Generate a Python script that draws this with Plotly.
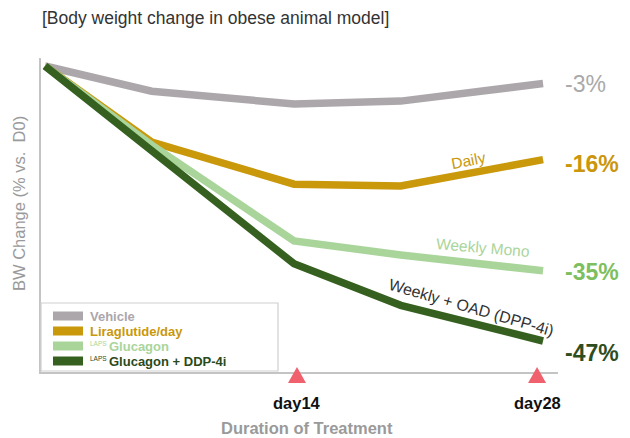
import plotly.graph_objects as go

# Body weight change (% vs. day 0) over the treatment period
days = [0, 6, 14, 20, 28]
vehicle = [0, -4.3, -6.5, -6.0, -3]
liraglutide = [0, -13.0, -20.2, -20.5, -16]
laps_glucagon = [0, -13.5, -29.9, -32.3, -35]
laps_glucagon_dpp4i = [0, -14.4, -33.8, -40.9, -47]

series_values = [vehicle, liraglutide, laps_glucagon, laps_glucagon_dpp4i]
legend_prefix = ["", "", "LAPS", "LAPS"]
legend_names = ["Vehicle", "Liraglutide/day", "Glucagon", "Glucagon + DDP-4i"]
end_labels = ["-3%", "-16%", "-35%", "-47%"]
tick_days = [14, 28]
tick_text = ["day14", "day28"]

line_colors = ["#aca7ab", "#c9980b", "#a9d59b", "#36601f"]
legend_text_colors = ["#aca6ad", "#c9980b", "#a9d59b", "#2a4a1b"]
end_label_colors = ["#a9a9a9", "#c9960c", "#7dbf5f", "#2e4d1e"]
end_label_bold = [False, True, True, True]
end_label_yshift = [0, -4, -1, -12]
tick_xshift = [3, -6]

FONT = "Liberation Sans"
W_FIG, H_FIG = 630, 438
M_L, M_R, M_T, M_B = 41, 72, 58, 66
PLOT_W = W_FIG - M_L - M_R
PLOT_H = H_FIG - M_T - M_B
AXIS_Y_PX = M_T + PLOT_H


def paper_x(px):
    return (px - M_L) / PLOT_W


def paper_y(py):
    return (AXIS_Y_PX - py) / PLOT_H


x_range = [-0.225, 28.84]
y_range = [-52.3, 1.37]

fig = go.Figure()

for vals, color in zip(series_values, line_colors):
    fig.add_trace(go.Scatter(
        x=days, y=vals, mode="lines",
        line=dict(color=color, width=7.5),
        showlegend=False, hoverinfo="skip",
    ))

annotations = []
shapes = []

# end-of-study values at the right of each line
for vals, txt, col, bold, ys in zip(series_values, end_labels, end_label_colors,
                                     end_label_bold, end_label_yshift):
    annotations.append(dict(
        x=days[-1], y=vals[-1], xref="x", yref="y",
        text=f"<b>{txt}</b>" if bold else txt,
        showarrow=False, xanchor="left", yanchor="middle",
        xshift=20, yshift=ys,
        font=dict(family=FONT, size=23, color=col),
    ))

# labels written along the curves
curve_notes = [
    ("Daily", 23.8, -16.1, -11, "#c9980b", 15.5),
    ("Weekly Mono", 24.6, -31.1, 5, "#a9d59b", 15.5),
    ("Weekly + OAD (DPP-4i)", 23.95, -41.2, 16, "#333333", 16),
]
for txt, x, y, ang, col, fs in curve_notes:
    annotations.append(dict(
        x=x, y=y, xref="x", yref="y", text=txt, showarrow=False,
        textangle=ang, xanchor="center", yanchor="middle",
        font=dict(family=FONT, size=fs, color=col),
    ))

# red triangles and day labels on the time axis
for d, txt, xs in zip(tick_days, tick_text, tick_xshift):
    shapes.append(dict(
        type="path", xref="x", yref="paper",
        xsizemode="pixel", ysizemode="pixel", xanchor=d, yanchor=0,
        path=f"M {xs - 9} -11 L {xs + 9} -11 L {xs} 5 Z",
        fillcolor="#f0616d", line=dict(width=0), layer="above",
    ))
    annotations.append(dict(
        x=d, y=0, xref="x", yref="paper", text=f"<b>{txt}</b>",
        showarrow=False, xanchor="center", yanchor="middle",
        xshift=xs, yshift=-31,
        font=dict(family=FONT, size=16.5, color="#111111"),
    ))

# axis titles
annotations.append(dict(
    x=paper_x(307), y=paper_y(428), xref="paper", yref="paper",
    text="<b>Duration of Treatment</b>", showarrow=False,
    xanchor="center", yanchor="middle",
    font=dict(family=FONT, size=16.5, color="#9a9a9a"),
))
annotations.append(dict(
    x=paper_x(19), y=paper_y(204), xref="paper", yref="paper",
    text="BW Change (% vs.  D0)", showarrow=False, textangle=-90,
    xanchor="center", yanchor="middle",
    font=dict(family=FONT, size=16.5, color="#9a9a9a"),
))

# chart title
annotations.append(dict(
    x=paper_x(40), y=paper_y(18), xref="paper", yref="paper",
    text="[Body weight change in obese animal model]", showarrow=False,
    xanchor="left", yanchor="middle",
    font=dict(family=FONT, size=17.5, color="#333333"),
))

# legend box with colour swatches
shapes.append(dict(
    type="rect", xref="paper", yref="paper",
    x0=paper_x(41), x1=paper_x(278), y0=paper_y(371), y1=paper_y(303),
    line=dict(color="#cfcfcf", width=1.2), fillcolor="rgba(0,0,0,0)",
))
row_y = [316, 331, 346, 361]
for ry, pre, name, lc, tc in zip(row_y, legend_prefix, legend_names,
                                 line_colors, legend_text_colors):
    shapes.append(dict(
        type="rect", xref="paper", yref="paper",
        x0=paper_x(53), x1=paper_x(83), y0=paper_y(ry + 4.5), y1=paper_y(ry - 4.5),
        line=dict(width=0), fillcolor=lc,
    ))
    text_x = 88
    if pre:
        annotations.append(dict(
            x=paper_x(text_x), y=paper_y(ry - 3), xref="paper", yref="paper",
            text=pre, showarrow=False, xanchor="left", yanchor="middle",
            font=dict(family=FONT, size=6.5, color=tc),
        ))
        text_x = 107
    annotations.append(dict(
        x=paper_x(text_x), y=paper_y(ry), xref="paper", yref="paper",
        text=f"<b>{name}</b>", showarrow=False, xanchor="left", yanchor="middle",
        font=dict(family=FONT, size=13, color=tc),
    ))

fig.update_layout(
    width=W_FIG, height=H_FIG,
    margin=dict(l=M_L, r=M_R, t=M_T, b=M_B),
    paper_bgcolor="white", plot_bgcolor="white",
    showlegend=False,
    xaxis=dict(range=x_range, showgrid=False, zeroline=False, showticklabels=False,
               ticks="", showline=True, linecolor="#c4c4c4", linewidth=1.5),
    yaxis=dict(range=y_range, showgrid=False, zeroline=False, showticklabels=False,
               ticks="", showline=True, linecolor="#c4c4c4", linewidth=1.5),
    annotations=annotations,
    shapes=shapes,
)

fig.write_html("out.html")
